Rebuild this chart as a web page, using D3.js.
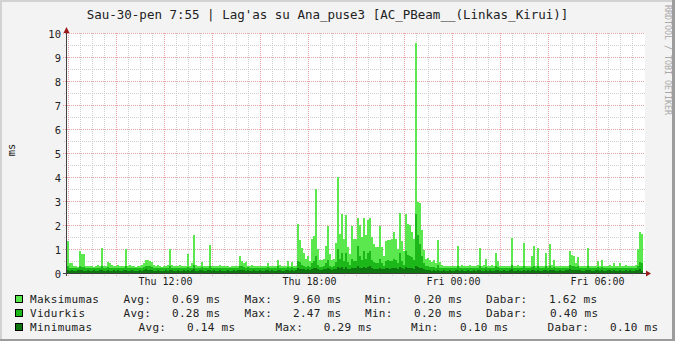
<!DOCTYPE html>
<html><head><meta charset="utf-8">
<script src="https://cdn.jsdelivr.net/npm/d3@7"></script>
<style>html,body{margin:0;padding:0;background:#F3F3F3;}svg{display:block;}</style>
</head><body><svg id="c" width="675" height="341"></svg>
<script>
const titleText = "Sau-30-pen 7:55 | Lag'as su Ana_puse3 [AC_PBeam__(Linkas_Kirui)]";
const yAxisLabel = "ms";
const watermark = "RRDTOOL / TOBI OETIKER";
const seriesNames = ["Maksimumas", "Vidurkis", "Minimumas"];
const seriesColors = ["#5AE84E", "#1CB81A", "#0E760E"];
const startTime = Date.UTC(2015, 0, 29, 7, 55);
const stepMinutes = 5;

const maxValues = [
1.35,0.42,0.4,0.3,0.3,0.25,0.9,0.8,0.8,0.3,0.3,0.28,
0.3,0.25,0.3,0.35,0.3,1.05,0.3,0.28,0.45,0.4,0.35,0.3,
0.3,0.35,0.3,0.28,0.3,0.98,0.3,0.35,0.3,0.3,0.25,0.3,
0.3,0.35,0.4,0.55,0.55,0.5,0.45,0.35,0.3,0.35,0.3,0.25,
0.3,0.3,0.35,1.0,0.35,0.3,0.3,0.3,0.35,0.3,0.3,0.3,
0.8,0.3,0.4,1.6,0.35,0.3,0.3,0.45,0.3,0.3,0.3,1.17,
0.3,0.3,0.28,0.3,0.35,0.3,0.3,0.3,0.3,0.25,0.3,0.3,
0.3,0.3,0.7,0.5,0.4,0.45,0.3,0.3,0.35,0.3,0.3,0.3,
0.3,0.3,0.3,0.3,0.4,0.3,0.3,0.3,0.3,0.55,0.35,0.3,
0.3,0.3,0.5,0.3,0.45,0.3,0.3,2.05,1.38,1.05,0.85,0.6,
0.7,0.5,1.42,1.55,3.5,1.0,0.55,0.55,0.6,1.13,1.97,0.8,
0.55,0.6,1.27,4.0,1.62,2.46,1.4,2.42,1.1,0.8,1.97,1.4,
1.4,2.3,2.0,1.5,2.3,1.6,2.2,2.3,1.5,1.2,1.1,1.1,
1.97,1.1,0.7,1.34,1.36,1.36,1.4,1.69,1.4,1.0,2.52,1.34,
0.9,2.46,2.05,2.0,1.69,1.4,9.6,2.94,2.9,1.8,0.95,0.6,
0.62,0.55,0.45,0.55,0.4,1.38,0.45,0.35,0.3,0.3,0.3,0.3,
0.3,0.3,0.3,1.13,0.3,0.35,0.3,0.3,0.3,0.35,0.3,0.3,
0.3,0.35,1.06,0.3,0.35,0.6,0.3,0.3,0.35,0.3,0.85,0.5,
0.3,0.3,0.3,0.3,0.3,0.3,1.45,0.3,0.3,0.35,0.3,0.3,
1.23,0.3,0.3,0.3,0.7,1.13,0.3,1.05,0.3,0.3,0.3,0.85,
0.3,1.2,0.35,0.55,0.3,0.3,0.3,0.3,0.3,0.3,0.3,0.9,
0.75,0.7,0.4,0.65,0.3,0.3,0.3,0.3,1.06,0.3,0.3,0.3,
0.3,0.5,0.3,0.55,0.3,0.3,0.3,0.35,0.3,0.4,0.3,0.3,
0.4,0.3,0.3,0.35,0.3,0.3,0.3,0.3,0.35,1.0,1.69,1.62
];
const avgValues = [
0.3,0.22,0.22,0.2,0.2,0.2,0.28,0.25,0.25,0.2,0.2,0.2,
0.2,0.2,0.2,0.22,0.2,0.3,0.2,0.2,0.25,0.22,0.2,0.2,
0.2,0.22,0.2,0.2,0.2,0.28,0.2,0.22,0.2,0.2,0.2,0.2,
0.2,0.22,0.25,0.3,0.3,0.28,0.25,0.22,0.2,0.22,0.2,0.2,
0.2,0.2,0.22,0.3,0.22,0.2,0.2,0.2,0.22,0.2,0.2,0.2,
0.25,0.2,0.22,0.35,0.22,0.2,0.2,0.25,0.2,0.2,0.2,0.3,
0.2,0.2,0.2,0.2,0.22,0.2,0.2,0.2,0.2,0.2,0.2,0.2,
0.2,0.2,0.3,0.28,0.25,0.22,0.25,0.2,0.2,0.22,0.2,0.2,
0.2,0.2,0.2,0.2,0.25,0.2,0.22,0.2,0.2,0.28,0.22,0.2,
0.2,0.2,0.25,0.2,0.25,0.2,0.2,0.5,0.45,0.35,0.3,0.25,
0.3,0.25,0.4,0.5,0.7,0.35,0.25,0.25,0.3,0.4,0.55,0.3,
0.25,0.3,0.45,1.0,0.6,0.85,0.5,0.85,0.45,0.35,0.6,0.5,
0.5,1.13,0.7,0.55,0.9,0.6,0.85,0.9,0.55,0.45,0.4,0.4,
0.6,0.4,0.3,0.5,0.55,0.5,0.5,0.6,0.55,0.4,0.85,0.5,
0.35,0.9,0.75,0.7,0.65,0.55,2.47,1.6,1.2,0.7,0.4,0.3,
0.3,0.25,0.25,0.25,0.2,0.35,0.22,0.2,0.2,0.2,0.2,0.2,
0.2,0.2,0.2,0.3,0.2,0.22,0.2,0.2,0.2,0.22,0.2,0.2,
0.2,0.22,0.3,0.2,0.22,0.25,0.2,0.2,0.22,0.2,0.28,0.25,
0.2,0.2,0.2,0.2,0.2,0.2,0.32,0.2,0.2,0.22,0.2,0.2,
0.3,0.2,0.2,0.2,0.25,0.3,0.22,0.3,0.2,0.2,0.2,0.28,
0.2,0.3,0.22,0.25,0.2,0.2,0.2,0.2,0.2,0.22,0.22,0.35,
0.3,0.3,0.25,0.28,0.22,0.2,0.2,0.2,0.3,0.22,0.2,0.2,
0.2,0.25,0.2,0.25,0.2,0.2,0.2,0.22,0.2,0.22,0.2,0.2,
0.22,0.2,0.2,0.22,0.2,0.2,0.2,0.2,0.22,0.3,0.45,0.4
];
const minValues = [
0.12,0.1,0.12,0.1,0.1,0.12,0.13,0.12,0.1,0.1,0.12,0.1,
0.1,0.12,0.1,0.1,0.12,0.14,0.1,0.1,0.12,0.1,0.1,0.12,
0.1,0.12,0.1,0.1,0.12,0.13,0.1,0.1,0.12,0.1,0.1,0.1,
0.12,0.1,0.12,0.15,0.14,0.12,0.12,0.1,0.1,0.12,0.1,0.1,
0.1,0.12,0.1,0.14,0.12,0.1,0.1,0.12,0.1,0.1,0.12,0.1,
0.12,0.1,0.12,0.15,0.1,0.1,0.12,0.12,0.1,0.1,0.12,0.14,
0.1,0.12,0.1,0.1,0.12,0.1,0.1,0.1,0.12,0.1,0.1,0.12,
0.1,0.12,0.14,0.13,0.12,0.1,0.12,0.1,0.1,0.12,0.1,0.1,
0.12,0.1,0.1,0.12,0.12,0.1,0.12,0.1,0.1,0.13,0.12,0.1,
0.1,0.12,0.12,0.1,0.12,0.1,0.12,0.2,0.18,0.15,0.15,0.12,
0.15,0.12,0.18,0.2,0.22,0.15,0.12,0.12,0.15,0.18,0.2,0.15,
0.12,0.15,0.18,0.25,0.2,0.25,0.18,0.25,0.18,0.15,0.2,0.2,
0.2,0.28,0.22,0.2,0.25,0.2,0.25,0.29,0.2,0.18,0.15,0.18,
0.2,0.18,0.15,0.2,0.2,0.18,0.2,0.22,0.2,0.15,0.25,0.2,
0.15,0.25,0.22,0.2,0.2,0.18,0.29,0.25,0.22,0.2,0.15,0.12,
0.12,0.12,0.1,0.12,0.1,0.14,0.1,0.1,0.12,0.1,0.1,0.12,
0.1,0.1,0.12,0.14,0.1,0.12,0.1,0.1,0.12,0.1,0.1,0.12,
0.1,0.12,0.14,0.1,0.1,0.12,0.1,0.12,0.1,0.1,0.13,0.12,
0.1,0.1,0.12,0.1,0.1,0.12,0.15,0.1,0.1,0.12,0.1,0.1,
0.14,0.1,0.12,0.1,0.12,0.14,0.1,0.14,0.1,0.1,0.12,0.13,
0.1,0.14,0.12,0.12,0.1,0.1,0.12,0.1,0.1,0.12,0.12,0.15,
0.14,0.14,0.12,0.13,0.12,0.1,0.1,0.12,0.14,0.12,0.1,0.1,
0.12,0.12,0.1,0.12,0.1,0.1,0.12,0.12,0.1,0.12,0.1,0.1,
0.12,0.1,0.1,0.12,0.1,0.12,0.1,0.1,0.12,0.14,0.15,0.1
];
const yTicks = [0,1,2,3,4,5,6,7,8,9,10];
const xTickLabels = ["Thu 12:00", "Thu 18:00", "Fri 00:00", "Fri 06:00"];
const xTickTimes = [Date.UTC(2015,0,29,12), Date.UTC(2015,0,29,18), Date.UTC(2015,0,30,0), Date.UTC(2015,0,30,6)];
const statLabels = ["Avg:", "Max:", "Min:", "Dabar:"];
const legendStats = [
  ["0.69 ms", "9.60 ms", "0.20 ms", "1.62 ms"],
  ["0.28 ms", "2.47 ms", "0.20 ms", "0.40 ms"],
  ["0.14 ms", "0.29 ms", "0.10 ms", "0.10 ms"]
];

const svg = d3.select("#c");
const W = 675, H = 341;
const FONT = "'DejaVu Sans Mono', monospace";

// background & frame
svg.append("rect").attr("x",0).attr("y",0).attr("width",W).attr("height",H).attr("fill","#F3F3F3");
svg.append("rect").attr("x",0).attr("y",0).attr("width",W).attr("height",2).attr("fill","#D2D2D2");
svg.append("rect").attr("x",0).attr("y",0).attr("width",2).attr("height",H).attr("fill","#D2D2D2");
svg.append("rect").attr("x",0).attr("y",H-2).attr("width",W).attr("height",2).attr("fill","#9C9C9C");
svg.append("rect").attr("x",W-3).attr("y",0).attr("width",3).attr("height",H).attr("fill","#9C9C9C");

const t0 = new Date(startTime);
const t1 = new Date(startTime + 24*3600*1000);
const x = d3.scaleUtc().domain([t0, t1]).range([67, 643]);
const y = d3.scaleLinear().domain([0, 10]).range([273, 33]);

// canvas
svg.append("rect").attr("x",67).attr("y",33).attr("width",578).attr("height",240).attr("fill","#FFFFFF");

const g = svg.append("g").attr("shape-rendering","crispEdges");

// minor vertical grid every 30 min
const minorT = d3.utcMinute.every(30).range(t0, t1);
const majorT = d3.utcHour.every(2).range(t0, t1);
const majorSet = new Set(majorT.map(d => +d));
g.selectAll(".vminor").data(minorT.filter(d => !majorSet.has(+d))).join("line")
  .attr("x1", d => Math.round(x(d)) - 0.5).attr("x2", d => Math.round(x(d)) - 0.5)
  .attr("y1", 33).attr("y2", 276)
  .attr("stroke","#CFCFCF").attr("stroke-dasharray","1,1");
// minor horizontal grid
const yMinor = d3.range(0.5, 10, 1);
g.selectAll(".hminor").data(yMinor).join("line")
  .attr("x1", 64).attr("x2", 645)
  .attr("y1", d => y(d) + 0.5).attr("y2", d => y(d) + 0.5)
  .attr("stroke","#CFCFCF").attr("stroke-dasharray","1,1");
// major grid
g.selectAll(".vmajor").data(majorT).join("line")
  .attr("x1", d => Math.round(x(d)) - 0.5).attr("x2", d => Math.round(x(d)) - 0.5)
  .attr("y1", 33).attr("y2", 276)
  .attr("stroke","#E6A3A3").attr("stroke-dasharray","1,1");
g.selectAll(".hmajor").data(yTicks.filter(v => v > 0)).join("line")
  .attr("x1", 63).attr("x2", 645)
  .attr("y1", d => y(d) + 0.5).attr("y2", d => y(d) + 0.5)
  .attr("stroke","#E6A3A3").attr("stroke-dasharray","1,1");

// data bars
const times = maxValues.map((_, i) => new Date(startTime + i*stepMinutes*60000));
const series = [maxValues, avgValues, minValues];
series.forEach((vals, si) => {
  g.append("g").selectAll("rect").data(vals).join("rect")
    .attr("x", (d, i) => x(times[i]))
    .attr("width", (d, i) => x(new Date(+times[i] + stepMinutes*60000)) - x(times[i]))
    .attr("y", d => y(d))
    .attr("height", d => y(0) - y(d))
    .attr("fill", seriesColors[si]);
});

// axes
g.append("line").attr("x1",63).attr("x2",646).attr("y1",273.5).attr("y2",273.5).attr("stroke","#404040");
g.append("line").attr("x1",66.5).attr("x2",66.5).attr("y1",30).attr("y2",276).attr("stroke","#404040");
// arrows
svg.append("path").attr("d","M646,270.5 L651,273.5 L646,276.5 Z").attr("fill","#9B1B1B");
svg.append("path").attr("d","M63.5,33 L66.5,27 L69.5,33 Z").attr("fill","#9B1B1B");

// y tick labels
svg.selectAll(".ylab").data(yTicks).join("text")
  .attr("x", 61).attr("y", d => y(d) + 0.5)
  .attr("text-anchor","end").attr("dominant-baseline","central")
  .attr("font-family", FONT).attr("font-size","10.5px").attr("fill","#222")
  .text(d => d);

// x tick labels
svg.selectAll(".xlab").data(xTickLabels).join("text")
  .attr("x", (d, i) => x(new Date(xTickTimes[i])) + 0.5).attr("y", 285)
  .attr("text-anchor","middle")
  .attr("font-family", FONT).attr("font-size","10px").attr("fill","#222")
  .text(d => d);

// title
svg.append("text").attr("x", 327.5).attr("y", 18.5).attr("text-anchor","middle")
  .attr("font-family", FONT).attr("font-size","12.5px").attr("fill","#222")
  .text(titleText);

// y axis label
svg.append("text").attr("transform","translate(15,150) rotate(-90)").attr("text-anchor","middle")
  .attr("font-family", FONT).attr("font-size","10.5px").attr("fill","#222")
  .text(yAxisLabel);

// watermark
svg.append("text").attr("transform","translate(665,5) rotate(90)").attr("text-anchor","start")
  .attr("font-family", FONT).attr("font-size","8.3px").attr("fill","#A8A8A8")
  .text(watermark);

// legend
const rowY = [303, 317, 331];
const colX = [
  [123.5, 172, 244.5, 293, 365, 414, 486, 549],
  [123.5, 172, 244.5, 293, 365, 414, 486, 550],
  [138.6, 187, 275.5, 323.7, 411, 460, 547.6, 610]
];
seriesNames.forEach((name, r) => {
  svg.append("rect").attr("x", 15.5).attr("y", rowY[r] - 7.5).attr("width", 7).attr("height", 7)
    .attr("fill", seriesColors[r]).attr("stroke","#000").attr("stroke-width",1)
    .attr("shape-rendering","crispEdges");
  const t = (xx, s) => svg.append("text").attr("x", xx).attr("y", rowY[r])
    .attr("font-family", FONT).attr("font-size","11px").attr("letter-spacing","0.3px").attr("fill","#222").text(s);
  t(30, name);
  statLabels.forEach((lab, k) => {
    t(colX[r][2*k], lab);
    t(colX[r][2*k+1], legendStats[r][k]);
  });
});
</script></body></html>
